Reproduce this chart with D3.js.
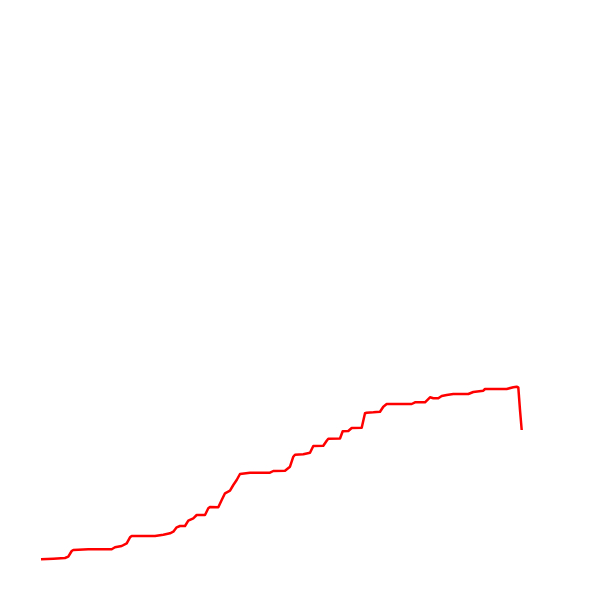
<!DOCTYPE html>
<html><head><meta charset="utf-8">
<script src="https://cdn.jsdelivr.net/npm/d3@7"></script>
<style>html,body{margin:0;padding:0;background:#fff;}</style>
</head><body>
<svg id="chart" width="600" height="600"></svg>
<script>
const xValues = [0,12.3,24,27.3,30.7,32.3,47.3,70.7,74,80.7,85.7,89,90.7,114,122.3,129,132.3,135.7,139,144,147.3,152.3,155.7,164,167.3,169,177.3,180.7,184,189,192.3,195.7,199,209,229,232.3,244,249,252.3,254,262.3,269,272.3,282.3,285.7,287.3,299,301.7,307.3,310.7,320.7,324,325.7,332.3,339,342.3,345.7,370.7,374,384,389,392.3,397.3,400.7,405.7,412.3,427.3,432.3,442.3,444,465.7,472.3,475.7,477.3,479,480.7];
const yValues = [0.2,0.8,1.5,2.8,8.5,9.5,10.2,10.2,12.2,13.5,16.2,22.2,23.5,23.5,24.8,26.2,27.8,32.2,33.5,33.5,38.8,41.2,44.5,44.5,51.2,52.5,52.2,59.5,66.2,68.8,74.5,79.5,85.5,86.8,86.8,88.5,88.8,92.8,102.8,104.8,105.2,106.8,113.5,113.8,118.8,120.8,121,128.2,128.5,131.5,131.8,146.2,146.8,147.2,147.8,152.8,155.5,155.5,157.2,157.2,162.2,161.2,161.2,163.5,164.5,165.5,165.5,167.5,168.8,170.5,170.5,172.2,172.8,172.2,149.5,129.5];

const svg = d3.select("#chart");
const x = d3.scaleLinear().domain([0, 480]).range([41, 521]);
const y = d3.scaleLinear().domain([0, 200]).range([559.5, 359.5]);
const data = xValues.map((v, i) => [v, yValues[i]]);
const line = d3.line().x(d => x(d[0])).y(d => y(d[1]));
svg.append("path").datum(data)
  .attr("d", line)
  .attr("fill", "none")
  .attr("stroke", "#ff0000")
  .attr("stroke-width", 2.5)
  .attr("stroke-linejoin", "round");
</script>
</body></html>
